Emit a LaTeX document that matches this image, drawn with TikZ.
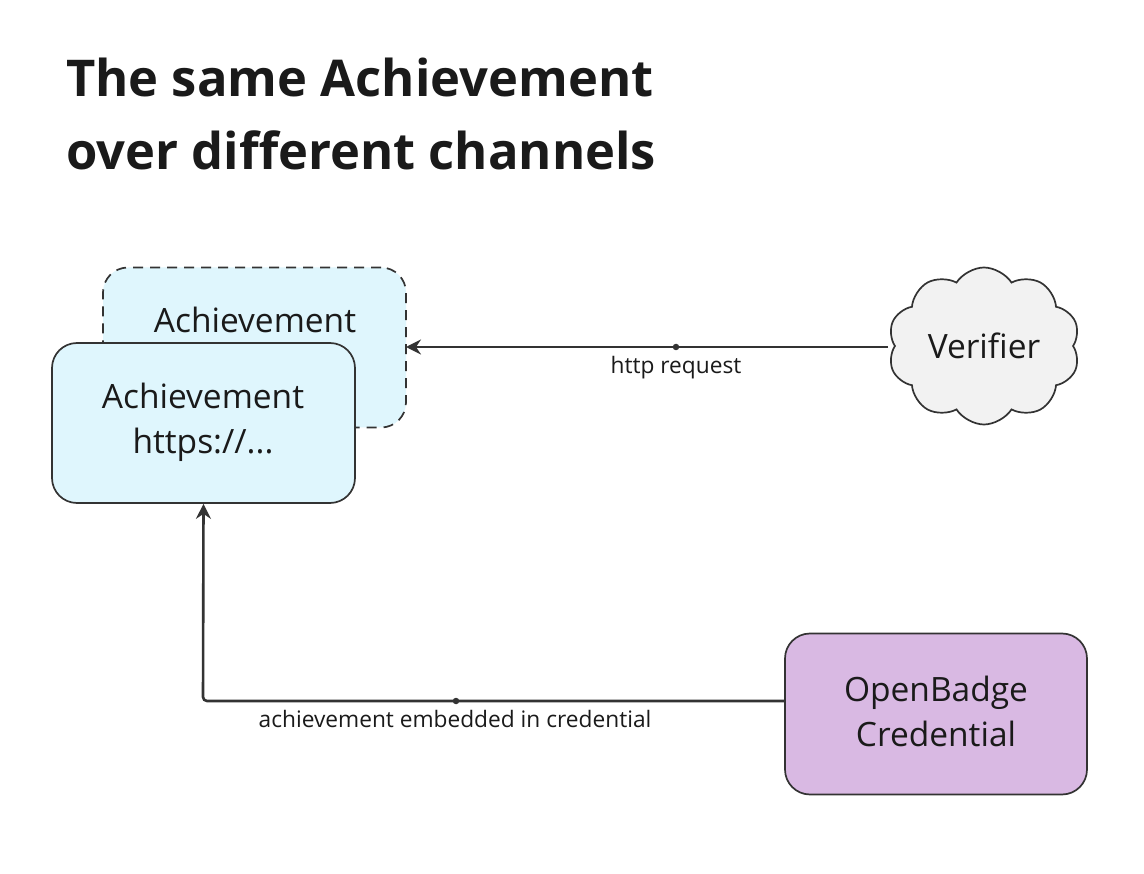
\documentclass[tikz,border=0pt]{standalone}
\usepackage{fontspec}
\setmainfont{Open Sans}
\usetikzlibrary{shapes.symbols,arrows.meta}
\definecolor{lineC}{HTML}{333333}
\definecolor{achFill}{HTML}{DFF6FD}
\definecolor{cloudFill}{HTML}{F2F2F2}
\definecolor{badgeFill}{HTML}{D9B9E3}
\definecolor{txt}{HTML}{1A1A1A}
\tikzset{
  box/.style={draw=lineC, line width=1.7pt, rounded corners=25pt, fill=achFill,
    minimum width=303pt, minimum height=160pt, inner sep=0pt},
  boxtext/.style={font=\fontsize{33.5}{45}\selectfont, text=txt, align=center},
  conn/.style={draw=lineC, line width=2.6pt, -{Stealth[length=15pt,width=15pt,inset=5pt]}},
  lbl/.style={font=\fontsize{22.7}{27}\selectfont, text=txt},
  middot/.style={circle, fill=lineC, inner sep=0pt, minimum size=6.5pt},
  titletext/.style={anchor=base west, inner sep=0pt, font=\fontsize{50.7}{60}\selectfont\bfseries, text=txt},
}
\begin{document}
\begin{tikzpicture}[x=1pt,y=-1pt]
\useasboundingbox (0,0) rectangle (1144,874);
\fill[white] (0,0) rectangle (1144,874);
% title
\node[titletext] (t1) at (66,97) {The same Achievement};
\node[titletext] (t2) at (66,170) {over different channels};
% back dashed box
\node[box, dashed, dash pattern=on 10pt off 7pt] (back) at (254.5,347.5) {};
\node[boxtext, anchor=base] (backtxt) at (255,333) {Achievement};
% front box
\node[box] (front) at (203.5,423) {};
\node[boxtext, anchor=base] (fronttxt) at (203,454) {Achievement\\https://...};
% verifier cloud
\node[cloud, cloud puffs=10, cloud puff arc=115, aspect=1.25, draw=lineC, line width=1.7pt,
  fill=cloudFill, minimum width=192pt, minimum height=157pt, inner sep=0pt,
  font=\fontsize{33.5}{40}\selectfont, text=txt] (ver) at (984,346) {Verifier};
% badge box
\node[box, fill=badgeFill, minimum width=302pt, minimum height=161pt] (badge) at (936,714) {};
\node[boxtext, anchor=base] (badgetxt) at (936,746) {OpenBadge\\Credential};
% connectors
\coordinate (vL) at (888,347);
\coordinate (bR) at (406,347);
\draw[conn] (vL) -- (bR);
\node[middot] (d1) at (676,347) {};
\node[lbl, anchor=base] (l1) at (676,374) {http request};
\coordinate (oL) at (785,701);
\coordinate (corner) at (203,701);
\draw[conn, rounded corners=4pt] (oL) -- (corner) -- (front.south);
\node[middot] (d2) at (456,701) {};
\node[lbl, anchor=base] (l2) at (455,727) {achievement embedded in credential};
\end{tikzpicture}
\end{document}
